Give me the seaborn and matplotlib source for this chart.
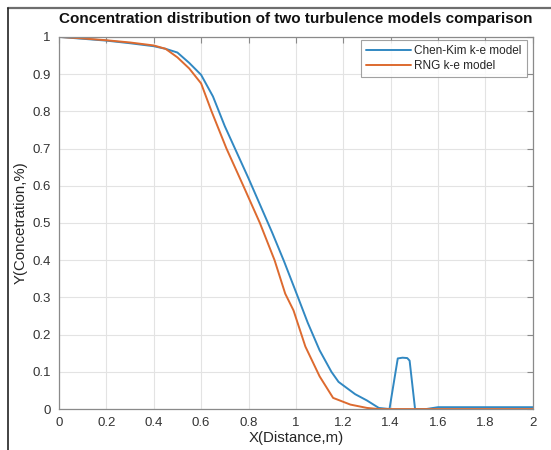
import numpy as np
import pandas as pd
import matplotlib
matplotlib.use("Agg")
import matplotlib.pyplot as plt
import seaborn as sns
from matplotlib.lines import Line2D

# ---- data ----
chen_x = [0.0, 0.1, 0.2, 0.3, 0.4, 0.45, 0.5, 0.55, 0.6, 0.65, 0.7, 0.75, 0.8, 0.85,
          0.9, 0.95, 1.0, 1.05, 1.1, 1.15, 1.18, 1.25, 1.3, 1.35, 1.395, 1.43, 1.45,
          1.47, 1.48, 1.503, 1.55, 1.6, 1.8, 2.0]
chen_y = [1.0, 0.995, 0.99, 0.983, 0.975, 0.968, 0.958, 0.93, 0.898, 0.84, 0.76, 0.69,
          0.62, 0.547, 0.474, 0.397, 0.315, 0.232, 0.158, 0.1, 0.073, 0.04, 0.023, 0.003,
          0.0, 0.136, 0.138, 0.137, 0.13, 0.0, 0.0, 0.005, 0.005, 0.005]

rng_x = [0.0, 0.1, 0.2, 0.3, 0.4, 0.45, 0.5, 0.55, 0.6, 0.644, 0.707, 0.778, 0.848,
         0.91, 0.955, 0.99, 1.04, 1.1, 1.157, 1.23, 1.3, 1.35, 1.6, 2.0]
rng_y = [1.0, 0.996, 0.991, 0.985, 0.977, 0.968, 0.945, 0.915, 0.875, 0.8, 0.7, 0.6,
         0.5, 0.4, 0.31, 0.265, 0.168, 0.088, 0.03, 0.012, 0.003, 0.0, 0.0, 0.0]

series_names = ["Chen-Kim k-e model", "RNG k-e model"]
x_ticks = [0, 0.2, 0.4, 0.6, 0.8, 1.0, 1.2, 1.4, 1.6, 1.8, 2.0]
x_tick_labels = ["0", "0.2", "0.4", "0.6", "0.8", "1", "1.2", "1.4", "1.6", "1.8", "2"]
y_ticks = [0, 0.1, 0.2, 0.3, 0.4, 0.5, 0.6, 0.7, 0.8, 0.9, 1.0]
y_tick_labels = ["0", "0.1", "0.2", "0.3", "0.4", "0.5", "0.6", "0.7", "0.8", "0.9", "1"]

df = pd.concat([
    pd.DataFrame({"x": chen_x, "y": chen_y, "model": series_names[0]}),
    pd.DataFrame({"x": rng_x, "y": rng_y, "model": series_names[1]}),
], ignore_index=True)

sns.set_style("white")
plt.rcParams["font.family"] = ["Liberation Sans", "DejaVu Sans"]

fig = plt.figure(figsize=(5.51, 4.5), dpi=100)
ax = fig.add_axes([0.107, 0.091, 0.860, 0.827])

palette = {series_names[0]: "#3188c2", series_names[1]: "#dd6a2f"}
sns.lineplot(data=df, x="x", y="y", hue="model", palette=palette, ax=ax,
             linewidth=1.4, sort=False, estimator=None)

ax.set_xlim(0, 2)
ax.set_ylim(0, 1)
ax.set_xticks(x_ticks)
ax.set_xticklabels(x_tick_labels)
ax.set_yticks(y_ticks)
ax.set_yticklabels(y_tick_labels)
ax.grid(True, color="#e3e3e3", linewidth=0.8)
ax.set_axisbelow(True)
for s in ax.spines.values():
    s.set_color("#8a8a8a")
    s.set_linewidth(0.9)
ax.tick_params(direction="in", length=4, width=0.8, color="#8a8a8a",
               labelsize=9.5, labelcolor="#333333", top=True, right=True, pad=6)

ax.set_xlabel("X(Distance,m)", fontsize=10.8, color="#262626", labelpad=1.5)
ax.set_ylabel("Y(Concetration,%)", fontsize=10.8, color="#262626", labelpad=3)
ax.set_title("Concentration distribution of two turbulence models comparison",
             fontsize=11, fontweight="bold", color="#111111", pad=10)

leg = ax.legend(loc="upper right", fontsize=8.5, frameon=True, fancybox=False,
                handlelength=3.8, borderpad=0.45, labelspacing=0.25,
                bbox_to_anchor=(0.988, 0.992), borderaxespad=0.0,
                handletextpad=0.3)
leg.get_frame().set_edgecolor("#8a8a8a")
leg.get_frame().set_linewidth(0.8)

# screenshot frame lines
fig.add_artist(Line2D([8 / 551, 1.0], [1 - 8 / 450, 1 - 8 / 450],
                      transform=fig.transFigure, color="#6e6e6e", linewidth=1.6))
fig.add_artist(Line2D([8 / 551, 8 / 551], [0.0, 1 - 8 / 450],
                      transform=fig.transFigure, color="#222222", linewidth=1.2))

fig.savefig("out.png", dpi=100)
